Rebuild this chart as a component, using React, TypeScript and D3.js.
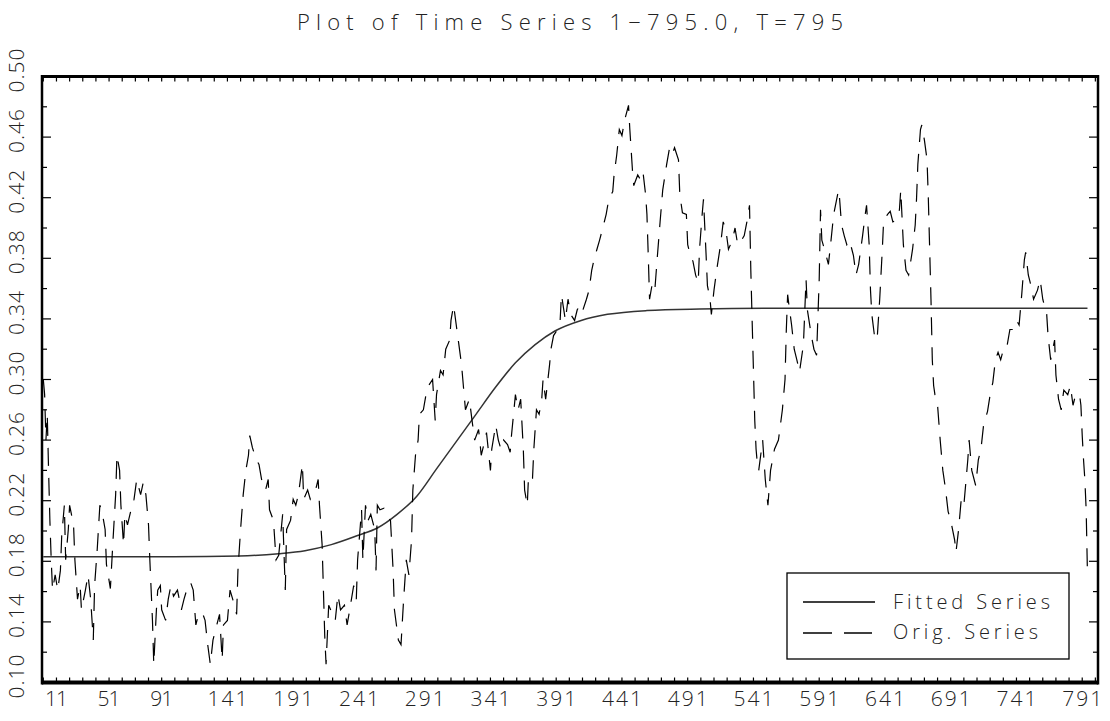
import * as d3 from "d3";

const title = "Plot of Time Series 1\u2212795.0, T=795";
const xTickLabels = [11, 51, 91, 141, 191, 241, 291, 341, 391, 441, 491, 541, 591, 641, 691, 741, 791];
const yTickLabels = [0.1, 0.14, 0.18, 0.22, 0.26, 0.3, 0.34, 0.38, 0.42, 0.46, 0.5];
const legendLabels = ["Fitted Series", "Orig. Series"];

// fitted smooth transition
const fittedSeries: [number, number][] = [
  [1, 0.183], [100, 0.183], [150, 0.1835], [180, 0.185], [200, 0.187], [220, 0.191],
  [240, 0.197], [255, 0.202], [270, 0.211], [285, 0.223], [300, 0.241], [315, 0.259],
  [330, 0.277], [345, 0.295], [360, 0.311], [375, 0.323], [390, 0.332], [410, 0.339],
  [430, 0.343], [460, 0.3455], [500, 0.3465], [560, 0.347], [795, 0.347],
];

// original series (time, value)
const origSeries: [number, number][] = [
  [1, 0.3], [2, 0.29], [3, 0.26], [4, 0.277], [5, 0.24], [6, 0.207], [7, 0.181], [8, 0.161],
  [10, 0.171], [12, 0.161], [14, 0.174], [15, 0.197], [17, 0.217], [18, 0.181], [20, 0.201],
  [21, 0.217], [24, 0.204], [25, 0.181], [27, 0.155], [29, 0.164], [30, 0.148], [33, 0.161],
  [35, 0.171], [37, 0.155], [39, 0.128], [40, 0.164], [42, 0.188], [44, 0.217], [46, 0.211],
  [48, 0.201], [49, 0.178], [52, 0.162], [54, 0.194], [56, 0.224], [57, 0.25], [59, 0.24],
  [60, 0.217], [62, 0.191], [63, 0.211], [65, 0.204], [68, 0.215], [70, 0.221], [72, 0.234],
  [75, 0.224], [77, 0.232], [79, 0.224], [81, 0.204], [82, 0.181], [84, 0.141], [85, 0.112],
  [87, 0.148], [88, 0.161], [90, 0.164], [91, 0.148], [94, 0.141], [96, 0.155], [98, 0.164],
  [100, 0.157], [103, 0.161], [106, 0.148], [108, 0.155], [110, 0.161], [113, 0.166],
  [115, 0.161], [117, 0.138], [119, 0.145], [122, 0.146], [124, 0.141], [126, 0.125],
  [128, 0.112], [130, 0.128], [132, 0.135], [135, 0.145], [137, 0.115], [138, 0.138],
  [141, 0.141], [143, 0.161], [145, 0.155], [148, 0.145], [149, 0.174], [151, 0.201],
  [153, 0.224], [155, 0.24], [157, 0.25], [158, 0.263], [160, 0.255], [163, 0.247],
  [165, 0.244], [167, 0.234], [170, 0.227], [172, 0.234], [173, 0.214], [176, 0.207],
  [178, 0.181], [180, 0.184], [183, 0.211], [185, 0.161], [186, 0.201], [189, 0.207],
  [191, 0.221], [193, 0.217], [195, 0.224], [198, 0.244], [199, 0.221], [202, 0.227],
  [204, 0.221], [206, 0.224], [208, 0.227], [210, 0.234], [211, 0.217], [213, 0.191],
  [214, 0.161], [215, 0.131], [216, 0.112], [218, 0.151], [221, 0.145], [223, 0.141],
  [225, 0.158], [227, 0.148], [230, 0.151], [232, 0.138], [234, 0.148], [237, 0.164],
  [239, 0.155], [240, 0.181], [243, 0.214], [244, 0.181], [246, 0.217], [248, 0.207],
  [250, 0.211], [253, 0.201], [254, 0.174], [255, 0.217], [257, 0.214], [260, 0.215],
  [263, 0.209], [265, 0.207], [267, 0.174], [268, 0.148], [271, 0.128], [273, 0.125],
  [275, 0.155], [277, 0.181], [279, 0.171], [281, 0.194], [282, 0.227], [284, 0.25],
  [286, 0.26], [287, 0.277], [290, 0.28], [292, 0.29], [294, 0.296], [297, 0.3], [299, 0.273],
  [300, 0.29], [303, 0.306], [305, 0.303], [307, 0.32], [310, 0.326], [311, 0.339],
  [313, 0.349], [315, 0.336], [317, 0.323], [319, 0.31], [321, 0.29], [322, 0.28],
  [325, 0.287], [327, 0.273], [329, 0.26], [332, 0.267], [334, 0.25], [336, 0.257],
  [338, 0.265], [341, 0.24], [342, 0.254], [345, 0.27], [347, 0.26], [349, 0.254],
  [351, 0.26], [354, 0.257], [356, 0.252], [357, 0.263], [360, 0.29], [362, 0.28],
  [364, 0.287], [366, 0.254], [367, 0.227], [369, 0.217], [370, 0.237], [373, 0.235],
  [374, 0.254], [376, 0.28], [378, 0.277], [380, 0.287], [381, 0.3], [383, 0.287],
  [386, 0.31], [387, 0.32], [389, 0.329], [392, 0.333], [394, 0.339], [395, 0.356],
  [398, 0.339], [400, 0.353], [402, 0.343], [405, 0.339], [407, 0.346], [409, 0.349],
  [411, 0.345], [414, 0.353], [416, 0.359], [418, 0.372], [420, 0.38], [422, 0.386],
  [424, 0.392], [427, 0.402], [429, 0.409], [431, 0.419], [434, 0.424], [435, 0.435],
  [437, 0.448], [439, 0.465], [441, 0.461], [443, 0.471], [446, 0.481], [447, 0.465],
  [449, 0.438], [450, 0.428], [453, 0.435], [455, 0.432], [457, 0.437], [459, 0.422],
  [460, 0.409], [461, 0.382], [462, 0.353], [464, 0.363], [466, 0.359], [468, 0.382],
  [470, 0.404], [472, 0.425], [475, 0.442], [477, 0.452], [479, 0.448], [481, 0.453],
  [484, 0.445], [485, 0.422], [487, 0.41], [490, 0.409], [491, 0.389], [493, 0.382],
  [495, 0.378], [497, 0.369], [499, 0.364], [500, 0.386], [502, 0.409], [503, 0.419],
  [505, 0.382], [506, 0.362], [508, 0.353], [509, 0.343], [511, 0.359], [513, 0.372],
  [516, 0.389], [518, 0.404], [520, 0.399], [522, 0.386], [525, 0.392], [527, 0.4],
  [529, 0.389], [532, 0.392], [534, 0.395], [536, 0.404], [538, 0.415], [539, 0.372],
  [540, 0.339], [541, 0.306], [542, 0.273], [543, 0.254], [544, 0.244], [545, 0.24],
  [548, 0.26], [550, 0.234], [552, 0.217], [554, 0.24], [557, 0.254], [560, 0.26],
  [563, 0.28], [565, 0.3], [566, 0.333], [567, 0.356], [568, 0.349], [570, 0.336],
  [572, 0.32], [574, 0.313], [576, 0.305], [579, 0.323], [581, 0.366], [582, 0.346],
  [585, 0.329], [587, 0.32], [589, 0.316], [591, 0.366], [592, 0.412], [593, 0.392],
  [595, 0.386], [598, 0.376], [600, 0.392], [602, 0.409], [605, 0.422], [606, 0.425],
  [608, 0.402], [610, 0.395], [612, 0.389], [614, 0.392], [617, 0.382], [619, 0.369],
  [621, 0.376], [624, 0.395], [626, 0.409], [627, 0.415], [629, 0.389], [630, 0.359],
  [631, 0.343], [633, 0.329], [635, 0.326], [637, 0.353], [639, 0.386], [640, 0.405],
  [643, 0.409], [645, 0.411], [647, 0.404], [649, 0.405], [652, 0.412], [653, 0.425],
  [655, 0.389], [657, 0.372], [659, 0.369], [662, 0.386], [664, 0.402], [665, 0.419],
  [666, 0.442], [668, 0.465], [669, 0.468], [671, 0.458], [673, 0.445], [674, 0.419],
  [675, 0.386], [676, 0.353], [677, 0.313], [678, 0.296], [679, 0.29], [681, 0.283],
  [683, 0.26], [685, 0.24], [687, 0.228], [689, 0.213], [691, 0.207], [694, 0.194],
  [695, 0.186], [697, 0.201], [699, 0.221], [701, 0.217], [704, 0.247], [705, 0.26],
  [707, 0.24], [710, 0.23], [712, 0.247], [714, 0.254], [716, 0.27], [719, 0.279],
  [721, 0.29], [723, 0.298], [725, 0.313], [727, 0.318], [729, 0.313], [732, 0.323],
  [734, 0.323], [736, 0.333], [738, 0.333], [741, 0.339], [743, 0.336], [745, 0.356],
  [747, 0.379], [748, 0.384], [750, 0.369], [752, 0.362], [754, 0.353], [757, 0.359],
  [759, 0.366], [761, 0.353], [764, 0.343], [765, 0.329], [767, 0.313], [770, 0.326],
  [771, 0.303], [773, 0.287], [775, 0.28], [777, 0.293], [780, 0.29], [782, 0.296],
  [784, 0.283], [786, 0.29], [789, 0.29], [790, 0.283], [791, 0.263], [792, 0.247],
  [793, 0.234], [794, 0.214], [795, 0.171],
];

const FONT = "'Open Sans', 'DejaVu Sans', sans-serif";

export default function App() {
  const left = 42, right = 1098, top = 76.5, bottom = 682.5;
  const x = d3.scaleLinear().domain([0, 803]).range([left, right]);
  const y = d3.scaleLinear().domain([0.1, 0.5]).range([bottom, top]);

  const origLine = d3.line<[number, number]>().x((d) => x(d[0])).y((d) => y(d[1]));
  const fitLine = d3
    .line<[number, number]>()
    .x((d) => x(d[0]))
    .y((d) => y(d[1]))
    .curve(d3.curveMonotoneX);

  const xMinor = d3.range(1, 803, 10);
  const yMinor = d3.range(0, 21).map((i) => 0.1 + i * 0.02);

  const lx = 787, ly = 573, lw = 282, lh = 86;

  return (
    <svg
      width={1110}
      height={721}
      style={{ position: "absolute", left: 0, top: 0, background: "#fff" }}
      fontFamily={FONT}
      fontWeight={300}
    >
      <rect width={1110} height={721} fill="#fff" />
      <text x={570} y={30} fontSize={22} textAnchor="middle" textLength={546} lengthAdjust="spacing" fill="#222">
        {title}
      </text>

      {/* data */}
      <path d={fitLine(fittedSeries) ?? ""} fill="none" stroke="#333" strokeWidth={1.5} />
      <path
        d={origLine(origSeries) ?? ""}
        fill="none"
        stroke="#000"
        strokeWidth={1.2}
        strokeDasharray="18,12"
      />

      {/* frame */}
      <line x1={left} x2={left} y1={top - 1.5} y2={bottom + 2} stroke="#000" strokeWidth={2.5} />
      <line x1={right} x2={right} y1={top - 1.5} y2={bottom + 2} stroke="#000" strokeWidth={2.5} />
      <line x1={left} x2={right} y1={top} y2={top} stroke="#000" strokeWidth={3} />
      <line x1={left} x2={right} y1={bottom} y2={bottom} stroke="#000" strokeWidth={4} />

      {xMinor.map((t) => (
        <g key={"xt" + t}>
          <line x1={x(t)} x2={x(t)} y1={top} y2={top + 5} stroke="#000" strokeWidth={1.2} />
          <line x1={x(t)} x2={x(t)} y1={bottom} y2={bottom - 5} stroke="#000" strokeWidth={1.2} />
        </g>
      ))}
      {yMinor.map((v, i) => {
        const len = i % 2 === 0 ? 9 : 5;
        return (
          <g key={"yt" + i}>
            <line x1={left} x2={left + len} y1={y(v)} y2={y(v)} stroke="#000" strokeWidth={1.2} />
            <line x1={right} x2={right - len} y1={y(v)} y2={y(v)} stroke="#000" strokeWidth={1.2} />
          </g>
        );
      })}

      {/* tick labels */}
      {xTickLabels.map((t) => {
        const s = String(t);
        return (
          <text
            key={"xl" + t}
            x={x(t)}
            y={706}
            fontSize={21}
            textAnchor="middle"
            textLength={s.length === 2 ? 23 : 40}
            lengthAdjust="spacing"
            fill="#222"
          >
            {s}
          </text>
        );
      })}
      {yTickLabels.map((v) => (
        <text
          key={"yl" + v}
          transform={`translate(24,${y(v) - 6}) rotate(-90)`}
          fontSize={21}
          textAnchor="middle"
          textLength={44}
          lengthAdjust="spacing"
          fill="#222"
        >
          {v.toFixed(2)}
        </text>
      ))}

      {/* legend */}
      <rect x={lx} y={ly} width={lw} height={lh} fill="#fff" stroke="#000" strokeWidth={1.3} />
      <line x1={803} x2={875} y1={602} y2={602} stroke="#000" strokeWidth={1.3} />
      <line x1={803} x2={872} y1={633} y2={633} stroke="#000" strokeWidth={1.3} strokeDasharray="29,12" />
      <text x={893} y={609} fontSize={20} textLength={157} lengthAdjust="spacing" fill="#222">
        {legendLabels[0]}
      </text>
      <text x={893} y={639} fontSize={20} textLength={145} lengthAdjust="spacing" fill="#222">
        {legendLabels[1]}
      </text>
    </svg>
  );
}
